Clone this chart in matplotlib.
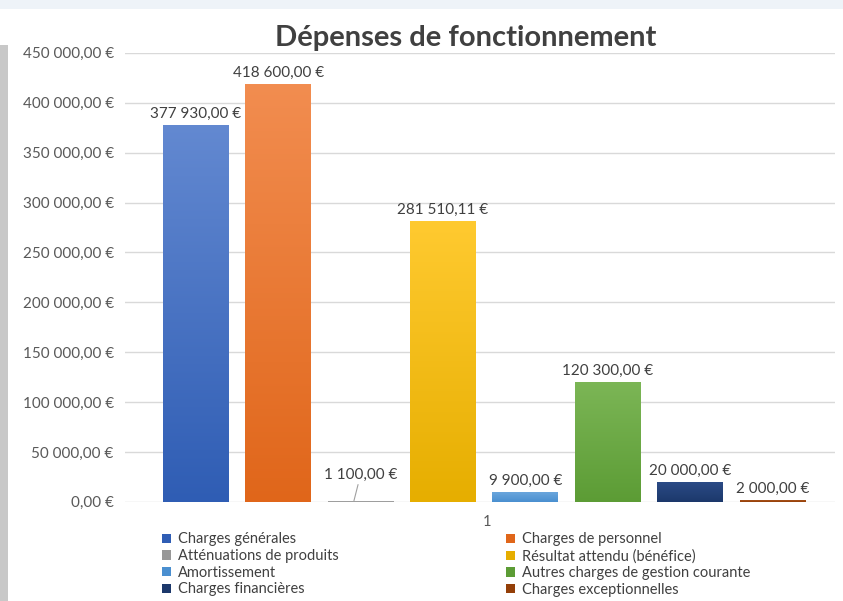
import numpy as np
import matplotlib
matplotlib.use('Agg')
import matplotlib.pyplot as plt
from matplotlib.colors import LinearSegmentedColormap
from matplotlib.patches import Rectangle

plt.rcParams['font.family'] = ['Lato', 'DejaVu Sans']

series = ['Charges générales', 'Charges de personnel', 'Atténuations de produits',
          'Résultat attendu (bénéfice)', 'Amortissement', 'Autres charges de gestion courante',
          'Charges financières', 'Charges exceptionnelles']
values = [377930.00, 418600.00, 1100.00, 281510.11, 9900.00, 120300.00, 20000.00, 2000.00]
colors_top = ['#6389d1', '#f28d50', '#b0b0b0', '#ffca30', '#6aa6dc', '#7cb656', '#2b4b86', '#a8531a']
colors_bot = ['#2f5db4', '#e0661a', '#989898', '#e6ae00', '#4a8fd0', '#5c9c35', '#1c386b', '#943f08']
category = '1'
yticks = np.arange(0, 450001, 50000)


def euro(v):
    return f"{v:,.2f}".replace(',', ' ').replace('.', ',') + ' €'


fig = plt.figure(figsize=(8.43, 6.01), dpi=100)
fig.patch.set_facecolor('white')
fig.patches.append(Rectangle((0, 0), 0.0095, 0.925, transform=fig.transFigure,
                             facecolor='#c8c8c8', edgecolor='none'))
fig.patches.append(Rectangle((0, 0.985), 1, 0.015, transform=fig.transFigure,
                             facecolor='#eef3f8', edgecolor='none'))

ax = fig.add_axes([0.148, 0.165, 0.842, 0.747])
x = np.arange(len(values))
w = 0.8
grad = np.linspace(1, 0, 256).reshape(-1, 1)
handles = []
for i, (v, ct, cb) in enumerate(zip(values, colors_top, colors_bot)):
    b = ax.bar(x[i], v, w, color=cb, edgecolor='none', zorder=2, label=series[i])[0]
    cmap = LinearSegmentedColormap.from_list('g%d' % i, [cb, ct])
    im = ax.imshow(grad, extent=[x[i] - w / 2, x[i] + w / 2, 0, v], aspect='auto',
                   cmap=cmap, zorder=3, origin='upper')
    im.set_clip_path(b)
    handles.append(b)

ax.set_xlim(-0.86, 7.75)
ax.set_ylim(0, 450000)
ax.set_yticks(yticks)
ax.set_yticklabels([euro(t) for t in yticks], fontsize=11, color='#595959')
ax.set_xticks([])
ax.grid(axis='y', color='#d9d9d9', linewidth=1, zorder=0)
for s in ax.spines.values():
    s.set_visible(False)
ax.tick_params(axis='y', length=0, pad=8)

# data labels
for i, v in enumerate(values):
    if i == 2:
        ax.annotate(euro(v), xy=(x[i] - 0.08, v), xytext=(x[i], v + 19000),
                    ha='center', va='bottom', fontsize=11, color='#404040',
                    arrowprops=dict(arrowstyle='-', color='#a0a0a0', lw=0.8,
                                    shrinkA=0, shrinkB=0))
    else:
        ax.annotate(euro(v), xy=(x[i], v), xytext=(0, 3), textcoords='offset points',
                    ha='center', va='bottom', fontsize=11, color='#404040')

fig.text(0.578, 0.131, category, ha='center', va='center', fontsize=10.5, color='#595959')
fig.text(0.552, 0.937, 'Dépenses de fonctionnement', ha='center', va='center',
         fontsize=21, fontweight='bold', color='#404040')

order = [0, 2, 4, 6, 1, 3, 5, 7]
leg = fig.legend([handles[k] for k in order], [series[k] for k in order], ncol=2,
                 loc='upper left', bbox_to_anchor=(0.192, 0.114), frameon=False,
                 fontsize=10.5, handlelength=0.6, handleheight=0.6, handletextpad=0.5,
                 columnspacing=11.5, labelspacing=0.18, borderaxespad=0, borderpad=0,
                 labelcolor='#404040')
for h, k in zip(leg.legend_handles, order):
    h.set_facecolor(colors_bot[k])

fig.savefig('out.png', dpi=100)
